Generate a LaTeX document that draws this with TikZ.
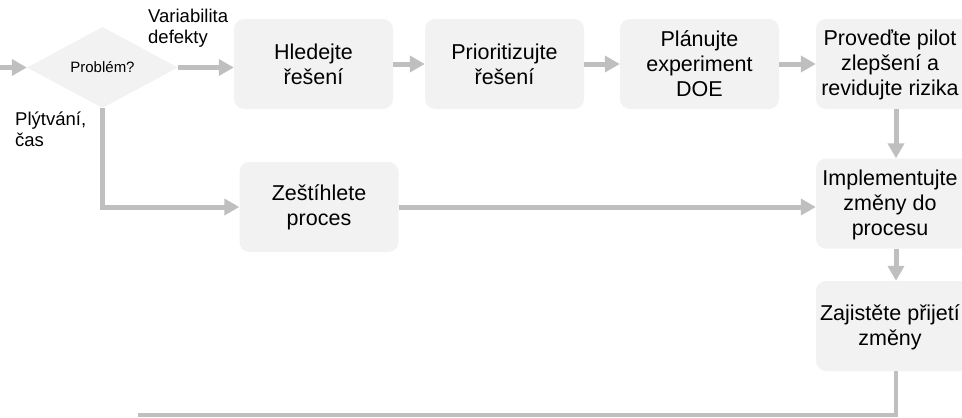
\documentclass[tikz,border=0pt]{standalone}
\usepackage{fontspec}
\setmainfont{Liberation Sans}
\usetikzlibrary{arrows.meta,shapes.geometric,calc}
\definecolor{arr}{HTML}{BFBFBF}
\definecolor{boxfill}{HTML}{F2F2F2}
\begin{document}
\begin{tikzpicture}[x=1pt,y=-1pt,
  stepbox/.style={rectangle,rounded corners=10pt,fill=boxfill,minimum width=159pt,minimum height=90pt,align=center,inner sep=2pt,font=\fontsize{21.5}{25}\selectfont},
  rightbox/.style={stepbox,minimum width=160pt,label={[align=center,inner sep=0pt,font=\fontsize{21.5}{25}\selectfont,xshift=-6pt,yshift=-1pt]center:#1}},
  decbox/.style={diamond,fill=boxfill,minimum width=151pt,minimum height=81pt,inner sep=0pt,aspect=1.86,font=\fontsize{15}{17}\selectfont},
  lbl/.style={align=left,anchor=north west,inner sep=0pt,font=\fontsize{18.5}{21}\selectfont},
  flow/.style={draw=arr,line width=5pt,-{Triangle[length=15pt,width=16pt]}},
  plain/.style={draw=arr,line width=5pt}]
\useasboundingbox (0,0) rectangle (962,418);
\node[decbox] (dec) at (102.5,67.5) {Problém?};
\node[stepbox] (b1) at (313.5,64) {Hledejte\\řešení};
\node[stepbox] (b2) at (504.5,64) {Prioritizujte\\řešení};
\node[stepbox] (b3) at (699.5,64) {Plánujte\\experiment\\DOE};
\node[rightbox={Proveďte pilot\\zlepšení a\\revidujte rizika}] (b4) at (896,64) {};
\node[rightbox={Implementujte\\změny do\\procesu}] (b5) at (896,203.5) {};
\node[rightbox={Zajistěte přijetí\\změny}] (b6) at (896,326) {};
\node[stepbox] (b7) at (319,207) {Zeštíhlete\\proces};
\node[lbl] (l1) at (148,9) {Variabilita\\defekty};
\node[lbl] (l2) at (15,112) {Plýtvání,\\čas};
\coordinate (start) at (0,67.5);
\coordinate (endp) at (138,415);
\draw[flow] (start) -- (dec.west);
\draw[flow] (dec.east) -- (b1.west |- dec.east);
\draw[flow] (b1) -- (b2);
\draw[flow] (b2) -- (b3);
\draw[flow] (b3) -- (b4);
\draw[flow] (b4) -- (b5);
\draw[flow] (b5) -- (b6);
\draw[flow] (dec.south) |- (b7.west);
\draw[flow] (b7.east) -- (b5.west |- b7.east);
\draw[draw=arr,line width=4pt] (b6.south) |- (endp);
\end{tikzpicture}
\end{document}
